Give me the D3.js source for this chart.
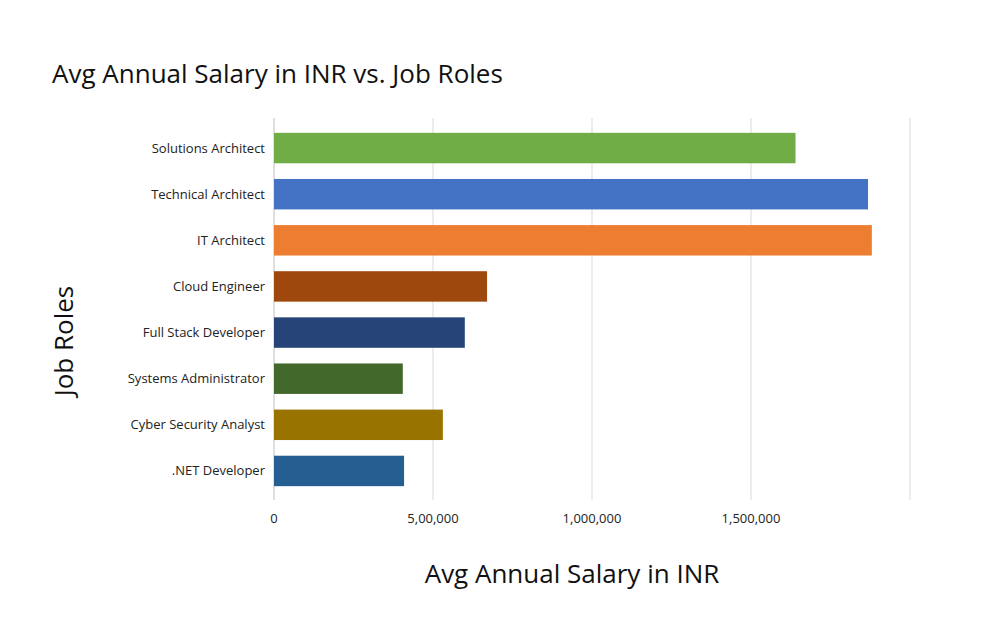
<!DOCTYPE html>
<html><head><meta charset="utf-8">
<script src="https://cdn.jsdelivr.net/npm/d3@7"></script>
<style>body{margin:0;background:#fff;font-family:"Open Sans",sans-serif;}</style>
</head><body>
<svg id="c" width="981" height="626"></svg>
<script>
const categories = ["Solutions Architect","Technical Architect","IT Architect","Cloud Engineer","Full Stack Developer","Systems Administrator","Cyber Security Analyst",".NET Developer"];
const salaries = [1640000,1868000,1880000,670000,600000,405000,531000,409000];
const colors = ["#70ad47","#4472c4","#ed7d31","#9e480e","#264478","#43682b","#997300","#255e91"];
const tickValues = [0,500000,1000000,1500000,2000000];
const tickLabels = ["0","5,00,000","1,000,000","1,500,000",""];

const svg = d3.select("#c").attr("font-family","'Open Sans',sans-serif");
const x = d3.scaleLinear().domain([0,2000000]).range([274,910]);
const y = d3.scaleBand().domain(categories).range([125,494]).paddingInner(0.34).paddingOuter(0.17);

svg.append("text").attr("x",52).attr("y",83).attr("font-size",26).attr("fill","#111").text("Avg Annual Salary in INR vs. Job Roles");

svg.selectAll("line.g").data(tickValues).join("line")
  .attr("x1",d=>x(d)).attr("x2",d=>x(d)).attr("y1",118).attr("y2",500)
  .attr("stroke",d=>d===0?"#bfbfbf":"#d9d9d9").attr("stroke-width",1);

svg.selectAll("rect").data(categories).join("rect")
  .attr("x",x(0)).attr("y",d=>y(d)).attr("height",y.bandwidth())
  .attr("width",(d,i)=>x(salaries[i])-x(0)).attr("fill",(d,i)=>colors[i]);

svg.selectAll("text.cat").data(categories).join("text")
  .attr("x",265).attr("y",d=>y(d)+y.bandwidth()/2).attr("dy","0.35em")
  .attr("text-anchor","end").attr("font-size",13).attr("fill","#222").text(d=>d);

svg.selectAll("text.tk").data(tickValues).join("text")
  .attr("x",d=>x(d)).attr("y",523).attr("text-anchor","middle")
  .attr("font-size",13).attr("fill","#222").text((d,i)=>tickLabels[i]);

svg.append("text").attr("x",572).attr("y",583).attr("text-anchor","middle").attr("font-size",26).attr("fill","#111").text("Avg Annual Salary in INR");
svg.append("text").attr("transform","translate(73,341) rotate(-90)").attr("text-anchor","middle").attr("font-size",26).attr("fill","#111").text("Job Roles");
</script>
</body></html>
